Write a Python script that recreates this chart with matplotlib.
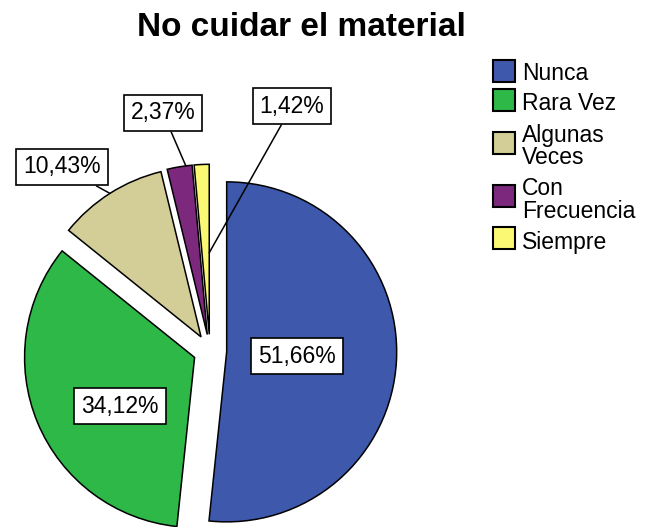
import numpy as np
import matplotlib
matplotlib.use("Agg")
import matplotlib.pyplot as plt
from matplotlib.patches import Rectangle

# data
categories = ["Nunca", "Rara Vez", "Algunas\nVeces", "Con\nFrecuencia", "Siempre"]
percent = [51.66, 34.12, 10.43, 2.37, 1.42]
pct_labels = ["51,66%", "34,12%", "10,43%", "2,37%", "1,42%"]
colors = ["#3E58AC", "#2EB848", "#D3CE97", "#7C287D", "#FBF873"]

W, H = 645, 527
plt.rcParams['font.family'] = ['Liberation Sans', 'DejaVu Sans']

fig = plt.figure(figsize=(W / 100, H / 100), dpi=100)
ax = fig.add_axes([0, 0, 1, 1])

# explode is in data units here (pixels), all slices pulled out the same
wedges, _ = ax.pie(percent, colors=colors, startangle=90, counterclock=False,
                   center=(210, H - 351), radius=170, explode=[16.7] * 5,
                   wedgeprops=dict(edgecolor="black", linewidth=1.1))
ax.set_xlim(0, W)
ax.set_ylim(0, H)
ax.set_aspect('equal')
ax.axis('off')

box = dict(boxstyle="square,pad=0.3", fc="white", ec="black", lw=1.2)
fs = 16.5

# label positions in pixel space (x, y from top)
label_pos = [(297, 356), (120, 406), (62, 167), (163, 113), (292, 106)]
# leader end: (fraction along the wedge angle, fraction of radius), None = inside label
leader = [None, None, (0.5, 1.0), (0.25, 1.0), (0.0, 0.48)]

for w, lab, (lx, ly), ld in zip(wedges, pct_labels, label_pos, leader):
    if ld is None:
        ax.text(lx, H - ly, lab, ha="center", va="center", fontsize=fs, bbox=box, zorder=5)
    else:
        fa, fr = ld
        ang = np.deg2rad(w.theta1 + fa * (w.theta2 - w.theta1))
        px = w.center[0] + fr * w.r * np.cos(ang)
        py = w.center[1] + fr * w.r * np.sin(ang)
        ax.annotate(lab, xy=(px, py), xytext=(lx, H - ly), ha="center", va="center",
                    fontsize=fs, bbox=box, zorder=5,
                    arrowprops=dict(arrowstyle="-", color="black", lw=1.1,
                                    shrinkA=0, shrinkB=0))

# title
fig.text(301 / W, 1 - 27 / H, "No cuidar el material", ha="center", va="center",
         fontsize=24, fontweight="bold")

# legend, drawn by hand like the SPSS one
patch_y = [71, 99.5, 143, 196, 237.5]
text_y = [73, 103, 146.5, 200, 242]
for c, name, py, ty in zip(colors, categories, patch_y, text_y):
    ax.add_patch(Rectangle((493, H - py - 11), 22, 22, fc=c, ec="black", lw=1.5))
    ax.text(522, H - ty, name, ha="left", va="center", fontsize=fs, linespacing=0.95)

fig.savefig("out.png", dpi=100)
